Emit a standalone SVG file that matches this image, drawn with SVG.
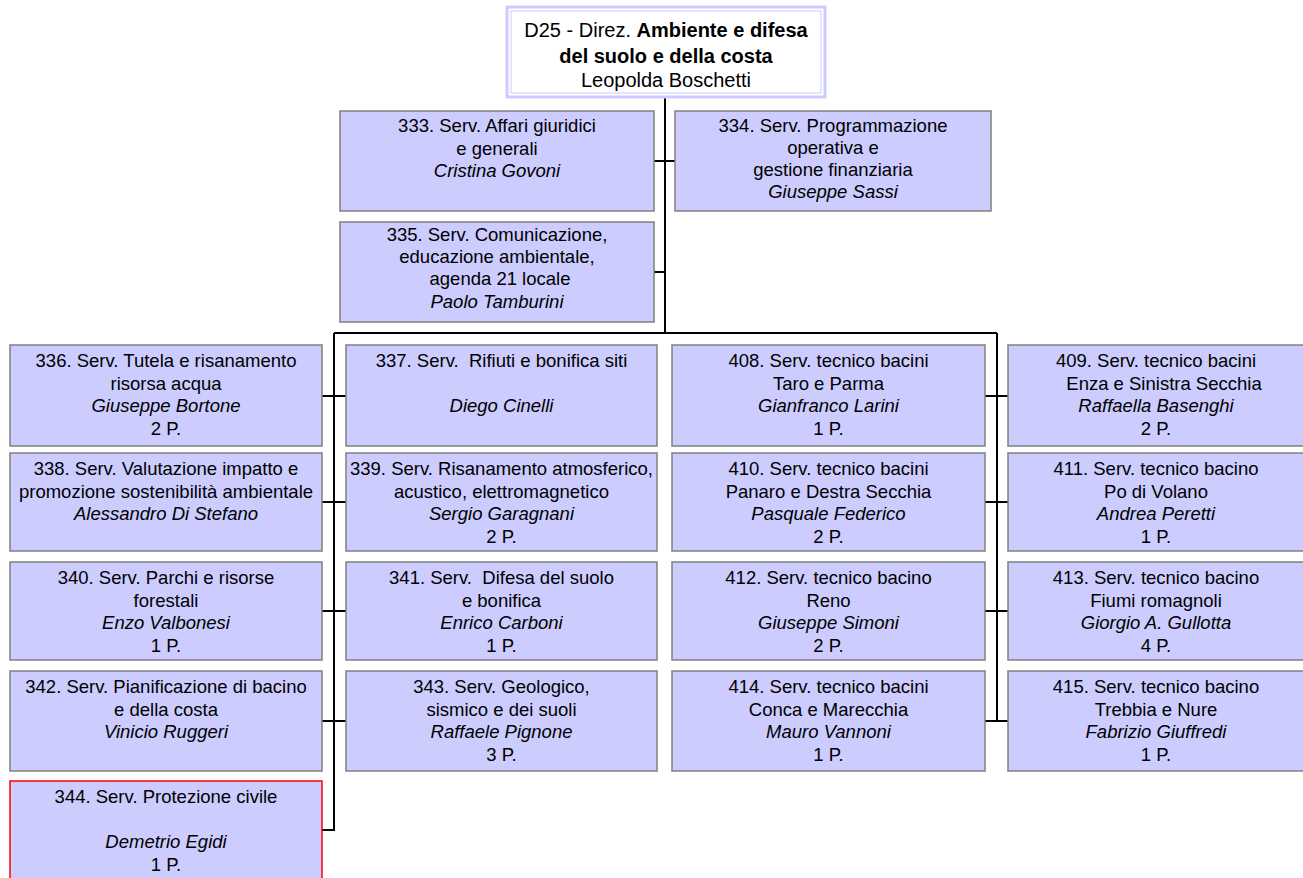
<svg xmlns="http://www.w3.org/2000/svg" width="1303" height="878" viewBox="0 0 1303 878">
<style>
.box{fill:#ccccff;stroke:#808080;stroke-width:1.5}
.red{fill:#ccccff;stroke:#ff0000;stroke-width:1.5}
.t{font-family:"Liberation Sans",Arial,sans-serif;font-size:18.5px;text-anchor:middle;fill:#000;white-space:pre}
.i{font-style:italic}
.h{font-family:"Liberation Sans",Arial,sans-serif;font-size:20px;text-anchor:middle;fill:#000}
.b{font-weight:bold}
.conn{stroke:#000;stroke-width:2;fill:none}
</style>
<rect width="1303" height="878" fill="#ffffff"/>
<g id="connectors">
<path class="conn" d="M665,97 V333 M334,333 H997 M334,333 V830 H322 M322,396 H346 M322,502 H346 M322,611 H346 M322,721 H346 M997,333 V721 M985,396 H1008 M985,502 H1008 M985,611 H1008 M985,721 H1008 M654,161 H675 M654,272 H665"/>
</g>
<g id="d25">
<rect x="507" y="7" width="318" height="90" fill="#ffffff" stroke="#ccccff" stroke-width="3"/>
<rect x="511" y="11" width="310" height="82" fill="none" stroke="#ccccff" stroke-width="1"/>
<text class="h" x="666" y="37">D25 - Direz. <tspan class="b">Ambiente e difesa</tspan></text>
<text class="h b" x="666" y="63">del suolo e della costa</text>
<text class="h" x="666" y="87">Leopolda Boschetti</text>
</g>
<g id="n333">
<rect class="box" x="340" y="111" width="314" height="100"/>
<text class="t" x="497" y="132">333. Serv. Affari giuridici</text>
<text class="t" x="497" y="154.5">e generali</text>
<text class="t i" x="497" y="177">Cristina Govoni</text>
</g>
<g id="n334">
<rect class="box" x="675" y="111" width="316" height="100"/>
<text class="t" x="833" y="132">334. Serv. Programmazione</text>
<text class="t" x="833" y="154">operativa e</text>
<text class="t" x="833" y="176">gestione finanziaria</text>
<text class="t i" x="833" y="198">Giuseppe Sassi</text>
</g>
<g id="n335">
<rect class="box" x="340" y="222" width="314" height="100"/>
<text class="t" x="497" y="241">335. Serv. Comunicazione,</text>
<text class="t" x="497" y="263">educazione ambientale,</text>
<text class="t" x="500" y="285">agenda 21 locale</text>
<text class="t i" x="497" y="308">Paolo Tamburini</text>
</g>
<g id="n336">
<rect class="box" x="10" y="345" width="312" height="101"/>
<text class="t" x="166" y="367">336. Serv. Tutela e risanamento</text>
<text class="t" x="166" y="389.5">risorsa acqua</text>
<text class="t i" x="166" y="412">Giuseppe Bortone</text>
<text class="t" x="166" y="434.5">2 P.</text>
</g>
<g id="n337">
<rect class="box" x="346" y="345" width="311" height="101"/>
<text class="t" x="501.5" y="367">337. Serv.  Rifiuti e bonifica siti</text>
<text class="t i" x="501.5" y="412">Diego Cinelli</text>
</g>
<g id="n408">
<rect class="box" x="672" y="345" width="313" height="101"/>
<text class="t" x="828.5" y="367">408. Serv. tecnico bacini</text>
<text class="t" x="828.5" y="389.5">Taro e Parma</text>
<text class="t i" x="828.5" y="412">Gianfranco Larini</text>
<text class="t" x="828.5" y="434.5">1 P.</text>
</g>
<g id="n409">
<rect class="box" x="1008" y="345" width="320" height="101"/>
<text class="t" x="1156" y="367">409. Serv. tecnico bacini</text>
<text class="t" x="1164" y="389.5">Enza e Sinistra Secchia</text>
<text class="t i" x="1156" y="412">Raffaella Basenghi</text>
<text class="t" x="1156" y="434.5">2 P.</text>
</g>
<g id="n338">
<rect class="box" x="10" y="453" width="312" height="98"/>
<text class="t" x="166" y="475">338. Serv. Valutazione impatto e</text>
<text class="t" x="166" y="497.5">promozione sostenibilità ambientale</text>
<text class="t i" x="166" y="520">Alessandro Di Stefano</text>
</g>
<g id="n339">
<rect class="box" x="346" y="453" width="311" height="98"/>
<text class="t" x="501.5" y="475">339. Serv. Risanamento atmosferico,</text>
<text class="t" x="501.5" y="497.5">acustico, elettromagnetico</text>
<text class="t i" x="501.5" y="520">Sergio Garagnani</text>
<text class="t" x="501.5" y="542.5">2 P.</text>
</g>
<g id="n410">
<rect class="box" x="672" y="453" width="313" height="98"/>
<text class="t" x="828.5" y="475">410. Serv. tecnico bacini</text>
<text class="t" x="828.5" y="497.5">Panaro e Destra Secchia</text>
<text class="t i" x="828.5" y="520">Pasquale Federico</text>
<text class="t" x="828.5" y="542.5">2 P.</text>
</g>
<g id="n411">
<rect class="box" x="1008" y="453" width="320" height="98"/>
<text class="t" x="1156" y="475">411. Serv. tecnico bacino</text>
<text class="t" x="1156" y="497.5">Po di Volano</text>
<text class="t i" x="1156" y="520">Andrea Peretti</text>
<text class="t" x="1156" y="542.5">1 P.</text>
</g>
<g id="n340">
<rect class="box" x="10" y="562" width="312" height="98"/>
<text class="t" x="166" y="584">340. Serv. Parchi e risorse</text>
<text class="t" x="166" y="606.5">forestali</text>
<text class="t i" x="166" y="629">Enzo Valbonesi</text>
<text class="t" x="166" y="651.5">1 P.</text>
</g>
<g id="n341">
<rect class="box" x="346" y="562" width="311" height="98"/>
<text class="t" x="501.5" y="584">341. Serv.  Difesa del suolo</text>
<text class="t" x="501.5" y="606.5">e bonifica</text>
<text class="t i" x="501.5" y="629">Enrico Carboni</text>
<text class="t" x="501.5" y="651.5">1 P.</text>
</g>
<g id="n412">
<rect class="box" x="672" y="562" width="313" height="98"/>
<text class="t" x="828.5" y="584">412. Serv. tecnico bacino</text>
<text class="t" x="828.5" y="606.5">Reno</text>
<text class="t i" x="828.5" y="629">Giuseppe Simoni</text>
<text class="t" x="828.5" y="651.5">2 P.</text>
</g>
<g id="n413">
<rect class="box" x="1008" y="562" width="320" height="98"/>
<text class="t" x="1156" y="584">413. Serv. tecnico bacino</text>
<text class="t" x="1156" y="606.5">Fiumi romagnoli</text>
<text class="t i" x="1156" y="629">Giorgio A. Gullotta</text>
<text class="t" x="1156" y="651.5">4 P.</text>
</g>
<g id="n342">
<rect class="box" x="10" y="671" width="312" height="100"/>
<text class="t" x="166" y="693">342. Serv. Pianificazione di bacino</text>
<text class="t" x="166" y="715.5">e della costa</text>
<text class="t i" x="166" y="738">Vinicio Ruggeri</text>
</g>
<g id="n343">
<rect class="box" x="346" y="671" width="311" height="100"/>
<text class="t" x="501.5" y="693">343. Serv. Geologico,</text>
<text class="t" x="501.5" y="715.5">sismico e dei suoli</text>
<text class="t i" x="501.5" y="738">Raffaele Pignone</text>
<text class="t" x="501.5" y="760.5">3 P.</text>
</g>
<g id="n414">
<rect class="box" x="672" y="671" width="313" height="100"/>
<text class="t" x="828.5" y="693">414. Serv. tecnico bacini</text>
<text class="t" x="828.5" y="715.5">Conca e Marecchia</text>
<text class="t i" x="828.5" y="738">Mauro Vannoni</text>
<text class="t" x="828.5" y="760.5">1 P.</text>
</g>
<g id="n415">
<rect class="box" x="1008" y="671" width="320" height="100"/>
<text class="t" x="1156" y="693">415. Serv. tecnico bacino</text>
<text class="t" x="1156" y="715.5">Trebbia e Nure</text>
<text class="t i" x="1156" y="738">Fabrizio Giuffredi</text>
<text class="t" x="1156" y="760.5">1 P.</text>
</g>
<g id="n344">
<rect class="red" x="10" y="781" width="312" height="110"/>
<text class="t" x="166" y="803">344. Serv. Protezione civile</text>
<text class="t i" x="166" y="848">Demetrio Egidi</text>
<text class="t" x="166" y="870.5">1 P.</text>
</g>
</svg>
